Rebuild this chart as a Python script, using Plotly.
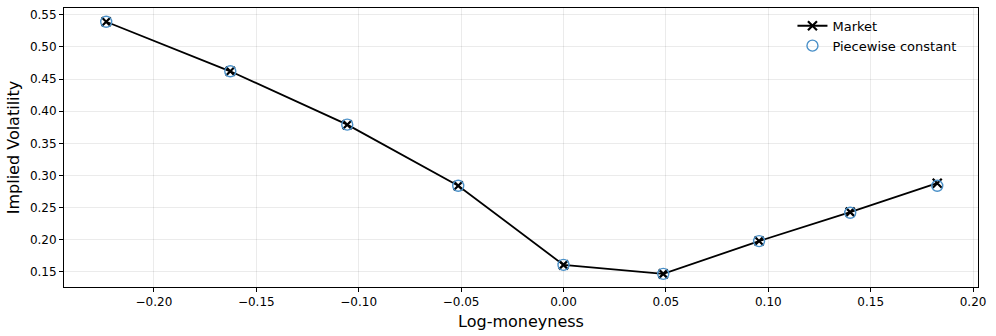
import plotly.graph_objects as go

# log-moneyness of the quoted strikes
log_m = [-0.2233, -0.1627, -0.1056, -0.0514, 0.0, 0.0487, 0.0955, 0.1400, 0.1825]
# market implied vols
iv_market = [0.539, 0.462, 0.379, 0.284, 0.161, 0.147, 0.198, 0.243, 0.288]
# model (piecewise constant vol) implied vols
iv_pwc = [0.539, 0.462, 0.379, 0.284, 0.161, 0.147, 0.198, 0.242, 0.284]

FONT = "DejaVu Sans"

fig = go.Figure()
fig.add_trace(go.Scatter(
    x=log_m, y=iv_market, mode="lines+markers", name="Market",
    line=dict(color="black", width=1.8),
    marker=dict(symbol="x-thin", size=9, color="black", line=dict(color="black", width=2.2))))
fig.add_trace(go.Scatter(
    x=log_m, y=iv_pwc, mode="markers", name="Piecewise constant",
    marker=dict(symbol="circle-open", size=11, color="#4a90c8", line=dict(width=1.4))))

axis_common = dict(showline=True, linecolor="black", linewidth=1, mirror=True,
                   ticks="outside", ticklen=4, tickcolor="black", automargin=False,
                   showgrid=True, gridcolor="rgba(0,0,0,0.08)", gridwidth=1,
                   zeroline=False, tickfont=dict(family=FONT, size=12, color="black"))

fig.update_layout(
    width=996, height=336,
    margin=dict(l=64, r=18, t=8, b=49),
    paper_bgcolor="white", plot_bgcolor="white",
    font=dict(family=FONT, color="black"),
    xaxis=dict(range=[-0.2439, 0.2024], tickvals=[-0.20, -0.15, -0.10, -0.05, 0.0, 0.05, 0.10, 0.15, 0.20],
               tickformat=".2f",
               title=dict(text="Log-moneyness", font=dict(family=FONT, size=16), standoff=7),
               **axis_common),
    yaxis=dict(range=[0.1266, 0.5604], tickvals=[0.15, 0.20, 0.25, 0.30, 0.35, 0.40, 0.45, 0.50, 0.55],
               tickformat=".2f",
               title=dict(text="Implied Volatility", font=dict(family=FONT, size=16), standoff=6),
               **axis_common),
    legend=dict(x=0.797, y=0.99, xanchor="left", yanchor="top", bgcolor="rgba(255,255,255,0)",
                font=dict(family=FONT, size=13), itemwidth=30, tracegroupgap=0),
    showlegend=True,
)

fig.write_html("out.html", config={"displayModeBar": False},
               post_script="document.body.style.margin='0';")
